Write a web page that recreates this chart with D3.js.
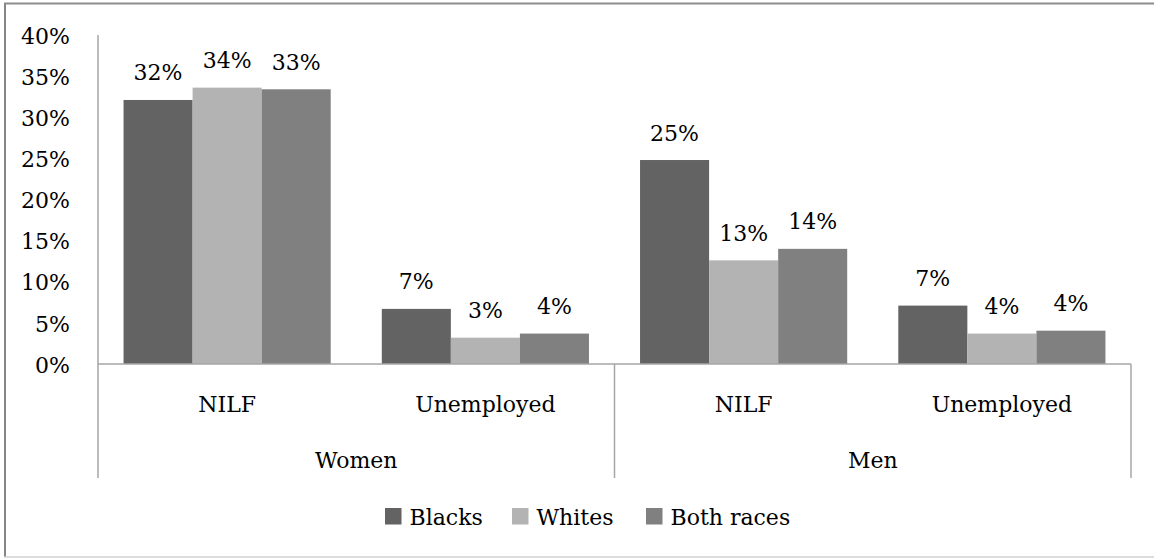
<!DOCTYPE html>
<html>
<head>
<meta charset="utf-8">
<script src="https://cdn.jsdelivr.net/npm/d3@7"></script>
<style>
  html, body { margin: 0; padding: 0; background: #fff; }
  svg { display: block; }
  text { font-family: "DejaVu Serif", "Liberation Serif", serif; fill: #000; }
</style>
</head>
<body>
<svg id="chart" width="1154" height="558"></svg>
<script>
const groups = ["Women", "Men"];
const categories = ["NILF", "Unemployed"];
const series = ["Blacks", "Whites", "Both races"];
const blacks = [32.1, 6.7, 24.8, 7.1];
const whites = [33.6, 3.2, 12.6, 3.7];
const both = [33.4, 3.7, 14.0, 4.05];
const yTicks = [0, 5, 10, 15, 20, 25, 30, 35, 40];
const colors = ["#636363", "#b3b3b3", "#808080"];

(function () {
const svg = d3.select("#chart");
const W = 1154, H = 558;
const mLeft = 98, mRight = 1131, mTop = 35, mBottom = 364;
const FS = 22;
const FONT = '"DejaVu Serif", "Liberation Serif", serif';

// outer frame
svg.append("line").attr("x1", 5).attr("x2", 5).attr("y1", 3.5).attr("y2", 557).attr("stroke", "#858585").attr("stroke-width", 2);
svg.append("line").attr("x1", 4).attr("x2", W).attr("y1", 3.5).attr("y2", 3.5).attr("stroke", "#8c8c8c").attr("stroke-width", 2);
svg.append("line").attr("x1", 4).attr("x2", W).attr("y1", 557).attr("y2", 557).attr("stroke", "#d0d0d0").attr("stroke-width", 1.5);

const flat = [];
groups.forEach((g, gi) => categories.forEach((c, ci) => flat.push({ g, c, key: g + "|" + c, i: gi * categories.length + ci })));

const x = d3.scaleBand().domain(flat.map(d => d.key)).range([mLeft, mRight]).padding(0);
const xs = d3.scaleBand().domain(series).range([0, x.bandwidth()]).paddingInner(0).paddingOuter(0.37);
const y = d3.scaleLinear().domain([0, 40]).range([mBottom, mTop]);

const values = [blacks, whites, both];

// y axis labels
const yAxis = d3.axisLeft(y).tickValues(yTicks).tickFormat(d => d + "%").tickSize(0).tickPadding(28);
const ya = svg.append("g").attr("transform", `translate(${mLeft},0)`).call(yAxis);
ya.select(".domain").remove();
ya.selectAll("text").attr("font-size", FS).attr("dy", "0.37em")
  .style("font-family", FONT).attr("fill", "#000");

// bars
series.forEach((s, si) => {
  svg.append("g").selectAll("rect").data(flat).join("rect")
    .attr("x", d => x(d.key) + xs(s))
    .attr("y", d => y(values[si][d.i]))
    .attr("width", xs.bandwidth())
    .attr("height", d => y(0) - y(values[si][d.i]))
    .attr("fill", colors[si]);
  svg.append("g").selectAll("text").data(flat).join("text")
    .attr("x", d => x(d.key) + xs(s) + xs.bandwidth() / 2)
    .attr("y", d => y(values[si][d.i]) - 19.5)
    .attr("text-anchor", "middle")
    .attr("font-size", FS)
    .text(d => Math.round(values[si][d.i]) + "%");
});

const axisColor = "#a6a6a6";
svg.append("line").attr("x1", mLeft).attr("x2", mLeft).attr("y1", mTop).attr("y2", 478).attr("stroke", axisColor).attr("stroke-width", 1.5);
svg.append("line").attr("x1", mLeft).attr("x2", mRight).attr("y1", mBottom).attr("y2", mBottom).attr("stroke", axisColor).attr("stroke-width", 1.5);
const gx = d3.scaleBand().domain(groups).range([mLeft, mRight]);
[mLeft + gx.step(), mRight].forEach(xx => {
  svg.append("line").attr("x1", xx).attr("x2", xx).attr("y1", mBottom).attr("y2", 478).attr("stroke", axisColor).attr("stroke-width", 1.5);
});

// category labels
svg.append("g").selectAll("text").data(flat).join("text")
  .attr("x", d => x(d.key) + x.bandwidth() / 2)
  .attr("y", 412)
  .attr("text-anchor", "middle").attr("font-size", FS)
  .text(d => d.c);
svg.append("g").selectAll("text").data(groups).join("text")
  .attr("x", d => gx(d) + gx.bandwidth() / 2)
  .attr("y", 468)
  .attr("text-anchor", "middle").attr("font-size", FS)
  .text(d => d);

// legend
const legendX = [385, 512, 646];
const lg = svg.append("g");
series.forEach((s, i) => {
  lg.append("rect").attr("x", legendX[i]).attr("y", 508).attr("width", 16.5).attr("height", 16.5).attr("fill", colors[i]);
  lg.append("text").attr("x", legendX[i] + 24.5).attr("y", 525).attr("font-size", FS).text(s);
});
})();
</script>
</body>
</html>
